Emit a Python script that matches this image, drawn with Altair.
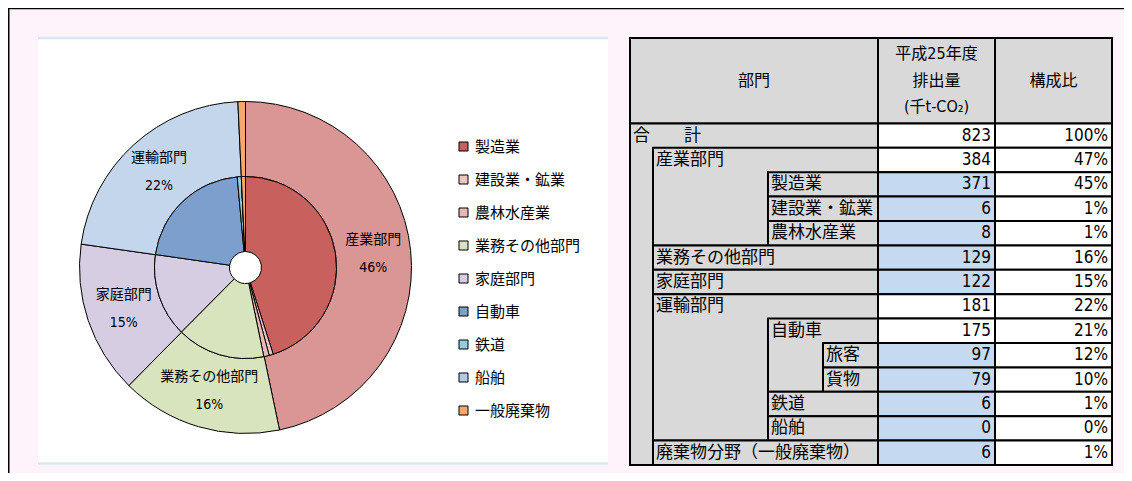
import altair as alt
import pandas as pd

FONT = "DejaVu Sans Condensed, DejaVu Sans, Noto Sans CJK JP, sans-serif"

# ---------------- pie data ----------------
outer_names = ["産業部門", "業務その他部門", "家庭部門", "運輸部門", "廃棄物分野"]
outer_values = [384, 129, 122, 181, 6]
outer_pcts = ["46%", "16%", "15%", "22%", ""]
outer_colors = ["#D99694", "#D7E4BD", "#D6CDE2", "#C4D6EC", "#F8A86C"]

inner_names = ["製造業", "建設業・鉱業", "農林水産業", "業務その他部門", "家庭部門",
               "自動車", "鉄道", "船舶", "一般廃棄物"]
inner_values = [371, 6, 8, 129, 122, 175, 6, 0, 6]
inner_colors = ["#C8605D", "#EBC4C3", "#E6B9B8", "#D7E4BD", "#D6CDE2",
                "#7C9FCE", "#93CDDC", "#B3C9E6", "#F8A86C"]

# ---------------- table data ----------------
row_labels = ["合　　計", "産業部門", "製造業", "建設業・鉱業", "農林水産業",
              "業務その他部門", "家庭部門", "運輸部門", "自動車", "旅客", "貨物",
              "鉄道", "船舶", "廃棄物分野（一般廃棄物）"]
row_levels = [0, 1, 2, 2, 2, 1, 1, 1, 2, 3, 3, 2, 2, 1]
row_values = [823, 384, 371, 6, 8, 129, 122, 181, 175, 97, 79, 6, 0, 6]
row_shares = ["100%", "47%", "45%", "1%", "1%", "16%", "15%", "22%", "21%",
              "12%", "10%", "1%", "0%", "1%"]
row_blue = [False, False, True, True, True, True, True, False, False,
            True, True, True, True, True]

header_texts = ["部門", "平成25年度\n排出量\n(千t-CO₂)", "構成比"]
header_start = [0, 4, 5]
header_end = [4, 5, 6]

# ---------------- frames ----------------
outer_df = pd.DataFrame({
    "name": outer_names, "v": outer_values, "pct": outer_pcts,
    "col": outer_colors, "idx": list(range(len(outer_names))),
})
outer_df["label"] = [n if p else "" for n, p in zip(outer_names, outer_pcts)]
inner_df = pd.DataFrame({"name": inner_names, "v": inner_values,
                         "idx": list(range(len(inner_names)))})

n = len(row_labels)
spans = []
for i in range(n):
    s = 1
    j = i + 1
    while j < n and row_levels[j] > row_levels[i]:
        s += 1
        j += 1
    spans.append(s)
table_df = pd.DataFrame({
    "label": row_labels, "level": row_levels, "r0": list(range(n)),
    "r1": [i + s for i, s in enumerate(spans)],
    "val": row_values, "share": row_shares, "blue": row_blue,
})
header_df = pd.DataFrame({"text": header_texts, "c0": header_start, "c1": header_end})
hl_rows = []
for t, a, b in zip(header_texts, header_start, header_end):
    lines = t.split("\n")
    for k, line in enumerate(lines):
        hl_rows.append({"text": line, "c0": a, "c1": b, "k": k, "m": len(lines)})
hl_df = pd.DataFrame(hl_rows)

CX, CY = 237.5, 259.5

theta = alt.Theta("v:Q", stack="normalize")
order = alt.Order("idx:Q")

# ---------------- background ----------------
bg_df = pd.DataFrame({"k": [0]})
panel = alt.Chart(bg_df).mark_rect(fill="white").encode(
    x=alt.value(30), x2=alt.value(600), y=alt.value(29), y2=alt.value(456))
panel_top = alt.Chart(bg_df).mark_rule(color="#DCE6F1", strokeWidth=2.5).encode(
    x=alt.value(30), x2=alt.value(600), y=alt.value(30))
panel_bot = alt.Chart(bg_df).mark_rule(color="#DCE6F1", strokeWidth=2.5).encode(
    x=alt.value(30), x2=alt.value(600), y=alt.value(455.5))
frame_top = alt.Chart(bg_df).mark_rule(color="black", strokeWidth=1.5).encode(
    x=alt.value(0), x2=alt.value(1116), y=alt.value(0.5))
frame_left = alt.Chart(bg_df).mark_rule(color="black", strokeWidth=1.5).encode(
    x=alt.value(0.75), y=alt.value(0), y2=alt.value(465))

# ---------------- pie ----------------
outer_arc = alt.Chart(outer_df).mark_arc(
    innerRadius=91, outerRadius=166, stroke="black", strokeWidth=1
).encode(theta=theta, order=order, fill=alt.Fill("col:N", scale=None),
         x=alt.value(CX), y=alt.value(CY))

inner_arc = alt.Chart(inner_df).mark_arc(
    innerRadius=16, outerRadius=91, stroke="black", strokeWidth=1
).encode(
    theta=theta, order=order,
    color=alt.Color("name:N", scale=alt.Scale(domain=inner_names, range=inner_colors),
                    legend=alt.Legend(
                        title=None, orient="none", legendX=448, legendY=131,
                        padding=0, symbolType="square", symbolSize=81,
                        symbolStrokeColor="black", symbolStrokeWidth=1,
                        symbolOpacity=1, labelFont=FONT, labelFontSize=15,
                        labelColor="black", rowPadding=17, labelOffset=4,
                        labelLimit=400)),
    x=alt.value(CX), y=alt.value(CY))

name_txt = alt.Chart(outer_df).mark_text(
    radius=128.5, dy=-14, font=FONT, fontSize=14, color="black"
).encode(theta=theta, order=order, detail="idx:N", text="label:N",
         x=alt.value(CX), y=alt.value(CY))
pct_txt = alt.Chart(outer_df).mark_text(
    radius=128.5, dy=14, font=FONT, fontSize=14, color="black"
).encode(theta=theta, order=order, detail="idx:N", text="pct:N",
         x=alt.value(CX), y=alt.value(CY))

# ---------------- table ----------------
xs = alt.Scale(domain=[0, 1, 2, 3, 4, 5, 6],
               range=[622, 645, 760, 815, 870, 987, 1104], nice=False, zero=False)
ys = alt.Scale(domain=[-3.5, 14], range=[30, 457], nice=False, zero=False)

hdr_rect = alt.Chart(header_df).mark_rect(fill="#D9D9D9", stroke="black", strokeWidth=2).encode(
    x=alt.X("c0:Q", scale=xs, axis=None), x2="c1:Q",
    y=alt.Y(datum=-3.5, scale=ys, axis=None), y2=alt.datum(0))
hdr_txt = alt.Chart(hl_df).mark_text(
    font=FONT, fontSize=16, color="black", align="center", baseline="middle",
    x={"expr": "(scale('x', datum.c0) + scale('x', datum.c1)) / 2"},
    dy={"expr": "(datum.k - (datum.m - 1) / 2) * 26.5"},
).encode(y=alt.Y(datum=-1.75, scale=ys, axis=None), text="text:N")

lab_rect = alt.Chart(table_df).mark_rect(fill="#D9D9D9", stroke="black", strokeWidth=2).encode(
    x=alt.X("level:Q", scale=xs, axis=None), x2=alt.datum(4),
    y=alt.Y("r0:Q", scale=ys, axis=None), y2="r1:Q")

val_rect = alt.Chart(table_df).transform_calculate(rn="datum.r0 + 1").mark_rect(
    stroke="black", strokeWidth=2).encode(
    x=alt.X(datum=4, scale=xs, axis=None), x2=alt.datum(5),
    y=alt.Y("r0:Q", scale=ys, axis=None), y2="rn:Q",
    fill=alt.condition("datum.blue", alt.value("#C5D9F1"), alt.value("white")))
share_rect = alt.Chart(table_df).transform_calculate(rn="datum.r0 + 1").mark_rect(
    stroke="black", strokeWidth=2, fill="white").encode(
    x=alt.X(datum=5, scale=xs, axis=None), x2=alt.datum(6),
    y=alt.Y("r0:Q", scale=ys, axis=None), y2="rn:Q")

lab_txt = alt.Chart(table_df).transform_calculate(rm="datum.r0 + 0.5").mark_text(
    font=FONT, fontSize=17, color="black", align="left", baseline="middle", dx=3
).encode(x=alt.X("level:Q", scale=xs, axis=None),
         y=alt.Y("rm:Q", scale=ys, axis=None), text="label:N")
val_txt = alt.Chart(table_df).transform_calculate(rm="datum.r0 + 0.5").mark_text(
    font=FONT, fontSize=17, color="black", align="right", baseline="middle", dx=-4
).encode(x=alt.X(datum=5, scale=xs, axis=None),
         y=alt.Y("rm:Q", scale=ys, axis=None), text="val:Q")
share_txt = alt.Chart(table_df).transform_calculate(rm="datum.r0 + 0.5").mark_text(
    font=FONT, fontSize=17, color="black", align="right", baseline="middle", dx=-4
).encode(x=alt.X(datum=6, scale=xs, axis=None),
         y=alt.Y("rm:Q", scale=ys, axis=None), text="share:N")

chart = alt.layer(
    panel, panel_top, panel_bot, frame_top, frame_left,
    outer_arc, inner_arc, name_txt, pct_txt,
    hdr_rect, lab_rect, val_rect, share_rect, hdr_txt, lab_txt, val_txt, share_txt,
).properties(
    width=1116, height=465, padding=0, background="#FEF2FB",
    autosize=alt.AutoSizeParams(type="none"),
).configure_view(strokeWidth=0)

chart.save("out.html", embed_options={"renderer": "svg", "actions": False})
